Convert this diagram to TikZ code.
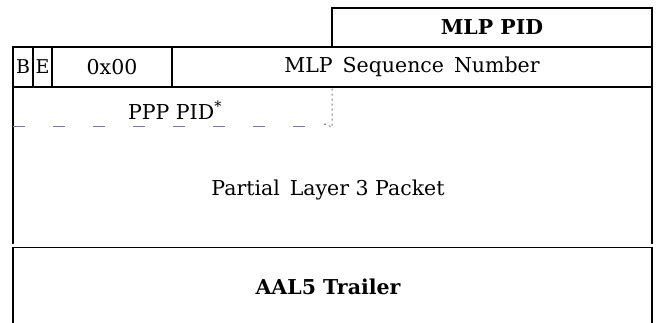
\documentclass[tikz,border=0pt]{standalone}
\usepackage{fontspec}
\setmainfont{DejaVu Serif}
\definecolor{dashc}{RGB}{125,115,170}
\begin{document}
\begin{tikzpicture}[x=1pt,y=-1pt,
  field/.style={draw, line width=1.7pt, inner sep=0pt, anchor=center},
  txt/.style={inner sep=0pt, font=\fontsize{20.5}{24}\selectfont},
  frame/.style={line width=1.7pt, draw=black}]
\useasboundingbox[fill=white] (0,0) rectangle (656,323);
% top MLP PID
\node[field, minimum width=320pt, minimum height=39pt, font=\fontsize{20.5}{24}\selectfont\bfseries] (pid) at (492,27.5) {MLP PID};
% second row
\node[field, minimum width=20pt, minimum height=40pt, font=\fontsize{19}{24}\selectfont] (b) at (23,67) {B};
\node[field, minimum width=19pt, minimum height=40pt, font=\fontsize{19}{24}\selectfont] (e) at (42.5,67) {E};
\node[field, minimum width=120pt, minimum height=40pt, font=\fontsize{20.5}{24}\selectfont] (hex) at (112,67) {0x00};
\node[field, minimum width=480pt, minimum height=40pt, font=\fontsize{20.5}{24}\selectfont] (seq) at (412,67) {MLP\, Sequence\, Number};
% partial layer 3 packet
\coordinate (pl) at (13,244);
\coordinate (pr) at (652,244);
\draw[frame] (pl) -- (13,87) -- (652,87) -- (pr);
\node[txt] (ppp) at (175,110) {PPP PID\textsuperscript{*}};
\coordinate (dl) at (13,127);
\coordinate (dc) at (332,127);
\coordinate (dt) at (332,87);
\draw[dashc, line width=1pt, dash pattern=on 12pt off 28pt] (dl) -- (dc);
\draw[dashc, line width=1pt, dash pattern=on 2pt off 3pt] (324,124) -- (dc) -- (dt);
\node[txt] (l3) at (328,190) {Partial\, Layer 3 Packet};
% AAL5 trailer
\coordinate (al) at (13,323);
\coordinate (ar) at (652,323);
\draw[frame] (al) -- (13,247.5) -- (652,247.5) -- (ar);
\node[txt, font=\fontsize{20.5}{24}\selectfont\bfseries] (aal) at (328,287) {AAL5 Trailer};
\end{tikzpicture}
\end{document}
